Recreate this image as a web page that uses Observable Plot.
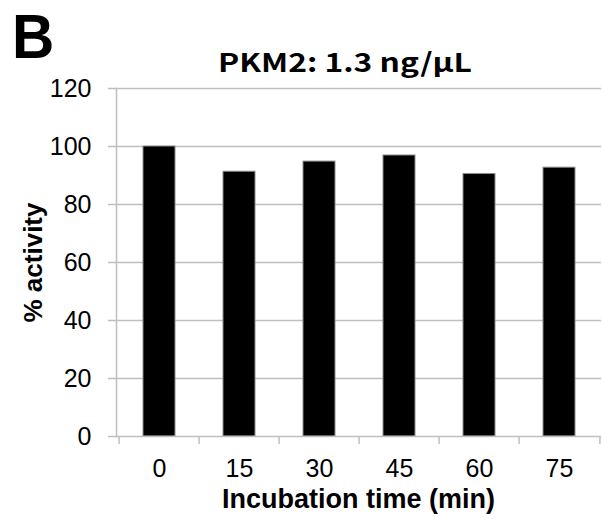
<!DOCTYPE html>
<html>
<head>
<meta charset="utf-8">
<script src="https://cdn.jsdelivr.net/npm/d3@7"></script>
<script src="https://cdn.jsdelivr.net/npm/@observablehq/plot@0.6"></script>
<style>
  html, body { margin: 0; padding: 0; background: white; }
</style>
</head>
<body>
<div id="chart"></div>
<script>
const times = ["0", "15", "30", "45", "60", "75"];
const activity = [100, 91.3, 94.8, 96.9, 90.5, 92.7];
const yTicks = [0, 20, 40, 60, 80, 100, 120];
const panelLabel = "B";
const titleText = "PKM2: 1.3 ng/μL";
const xLabel = "Incubation time (min)";
const yLabel = "% activity";

const data = times.map((t, i) => ({time: t, activity: activity[i]}));

const W = 602, H = 519;
const mL = 116, mR = 1, mT = 88, mB = 83;
const step = (W - mL - mR) / times.length;
const gray = "#bfbfbf";

const chart = Plot.plot({
  width: W, height: H,
  marginLeft: mL, marginRight: mR, marginTop: mT, marginBottom: mB,
  style: {fontFamily: "Liberation Sans, Arial, sans-serif", fontSize: "25px", background: "white", color: "black"},
  x: {domain: times, paddingInner: 0.6, paddingOuter: 0.3, label: null},
  y: {domain: [0, 120], label: null},
  marks: [
    Plot.ruleY(yTicks.slice(1), {stroke: gray, strokeWidth: 1.5}),
    Plot.barY(data, {x: "time", y: "activity", fill: "black", stroke: "#8c8c8c", strokeWidth: 1}),
    Plot.ruleY([0], {stroke: gray, strokeWidth: 1.5}),
    Plot.frame({anchor: "left", stroke: gray, strokeWidth: 1.5}),
    Plot.axisY({ticks: yTicks, tickSize: 8, tickPadding: 17, stroke: gray, strokeWidth: 1.5, fill: "black", fontSize: 25, label: null}),
    Plot.axisX({tickSize: 0, tickPadding: 23, fill: "black", fontSize: 25, label: null}),
    Plot.axisX({tickSize: 8, text: null, dx: -step / 2, stroke: gray, strokeWidth: 1.5, label: null}),
    Plot.axisX({ticks: [times[times.length - 1]], tickSize: 8, text: null, dx: step / 2, stroke: gray, strokeWidth: 1.5, label: null})
  ]
});

document.getElementById("chart").appendChild(chart);

const svg = d3.select(chart);
svg.append("text")
  .attr("transform", "translate(12,57.5) scale(0.93,1)")
  .attr("text-anchor", "start")
  .attr("font-family", "Liberation Sans, Arial, sans-serif")
  .attr("font-weight", "bold").attr("font-size", 63).attr("fill", "black")
  .text(panelLabel);
svg.append("text")
  .attr("x", 218).attr("y", 72)
  .attr("text-anchor", "start")
  .attr("textLength", 254).attr("lengthAdjust", "spacingAndGlyphs")
  .attr("font-family", "'Noto Sans CJK KR', 'Noto Sans', sans-serif")
  .attr("font-weight", "bold").attr("font-size", 26).attr("fill", "black")
  .text(titleText);
svg.append("text")
  .attr("x", mL + (W - mL - mR) / 2).attr("y", 508)
  .attr("text-anchor", "middle")
  .attr("font-family", "Liberation Sans, Arial, sans-serif")
  .attr("font-weight", "bold").attr("font-size", 27).attr("fill", "black")
  .text(xLabel);
svg.append("text")
  .attr("transform", "translate(41.5,262.5) rotate(-90)")
  .attr("text-anchor", "middle")
  .attr("font-family", "Liberation Sans, Arial, sans-serif")
  .attr("font-weight", "bold").attr("font-size", 26).attr("fill", "black")
  .text(yLabel);
</script>
</body>
</html>
